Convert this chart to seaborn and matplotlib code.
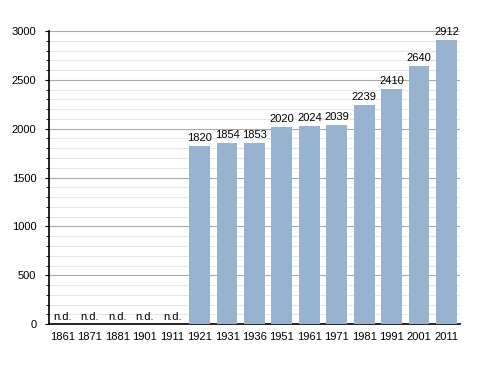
import matplotlib
matplotlib.use('Agg')
import matplotlib.pyplot as plt
import seaborn as sns
import pandas as pd
from matplotlib.ticker import MultipleLocator

# Dati popolazione
anni = ['1861', '1871', '1881', '1901', '1911', '1921', '1931', '1936',
        '1951', '1961', '1971', '1981', '1991', '2001', '2011']
abitanti = [None, None, None, None, None, 1820, 1854, 1853,
            2020, 2024, 2039, 2239, 2410, 2640, 2912]

df = pd.DataFrame({'anno': anni, 'abitanti': [v if v is not None else 0 for v in abitanti]})

sns.set_style('white')
plt.rcParams['font.family'] = ['Liberation Sans', 'DejaVu Sans']
plt.rcParams['text.color'] = 'black'
plt.rcParams['xtick.color'] = 'black'
plt.rcParams['ytick.color'] = 'black'
plt.rcParams['xtick.labelcolor'] = 'black'
plt.rcParams['ytick.labelcolor'] = 'black'

fig = plt.figure(figsize=(4.88, 3.73), dpi=100)
ax = fig.add_axes([0.1, 0.131, 0.843, 0.786])

sns.barplot(data=df, x='anno', y='abitanti', color='#98b3cf', saturation=1,
            width=0.76, ax=ax, zorder=3, edgecolor='none', linewidth=0)

ax.set_ylim(0, 3000)
ax.set_xlim(-0.5, len(anni) - 0.5)
ax.yaxis.set_major_locator(MultipleLocator(500))
ax.yaxis.set_minor_locator(MultipleLocator(100))
ax.grid(which='major', axis='y', color='#a8a8a8', linewidth=0.8, zorder=0)
ax.grid(which='minor', axis='y', color='#e6e6e6', linewidth=0.8, zorder=0)
ax.tick_params(axis='y', which='major', left=True, length=3, width=0.8, labelsize=8, pad=6)
ax.tick_params(axis='y', which='minor', left=True, length=2, width=0.6)
ax.tick_params(axis='x', bottom=False, labelsize=8, pad=2)

for s in ['top', 'right']:
    ax.spines[s].set_visible(False)
for s in ['left', 'bottom']:
    ax.spines[s].set_color('black')
    ax.spines[s].set_linewidth(1.2)

for i, v in enumerate(abitanti):
    if v is None:
        ax.text(i, 20, 'n.d.', ha='center', va='bottom', fontsize=8, zorder=4)
    else:
        ax.text(i, v + 30, str(v), ha='center', va='bottom', fontsize=8, zorder=4)

ax.set_xlabel('')
ax.set_ylabel('')

fig.savefig('out.png', dpi=100)
